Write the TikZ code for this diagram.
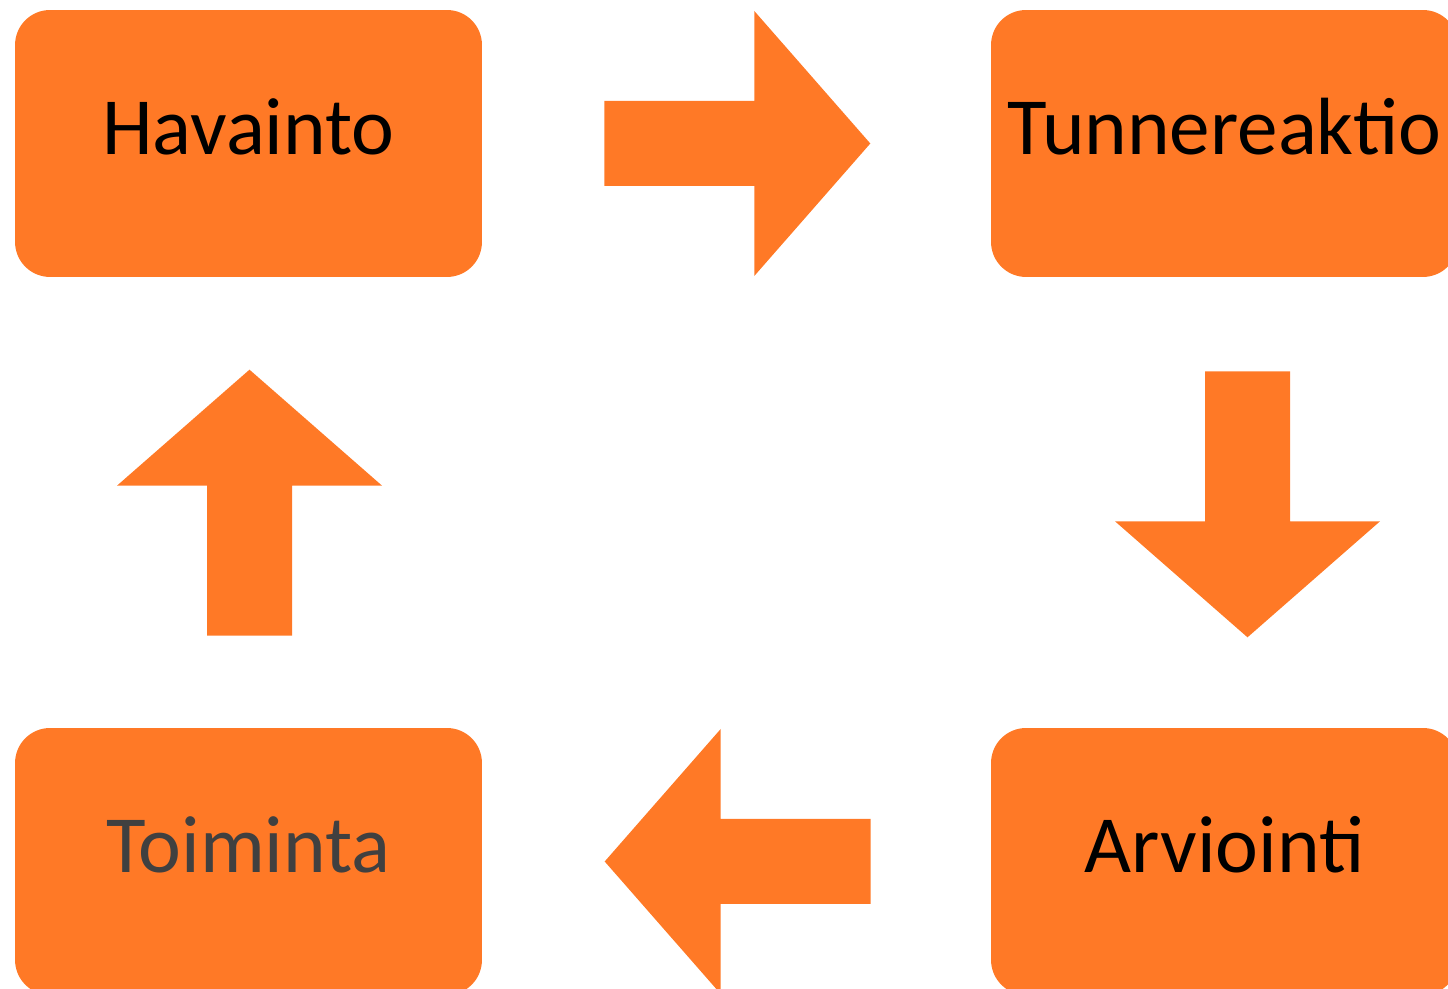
\documentclass[tikz,border=0pt]{standalone}
\usepackage{fontspec}
\setmainfont{Carlito}
\usepackage{tikz}
\usetikzlibrary{positioning,calc}
\definecolor{boxorange}{RGB}{255,121,38}
\definecolor{darktext}{RGB}{64,64,64}

% filled block arrow: tail centre, direction angle
\newcommand{\blockarrow}[2]{
	\begin{scope}[shift={#1}, rotate=#2]
		\fill[boxorange] (0,42.5) -- (150,42.5) -- (150,132.5) -- (266,0) -- (150,-132.5) -- (150,-42.5) -- (0,-42.5) -- cycle;
	\end{scope}
}

\begin{document}
\begin{tikzpicture}[x=0.02cm, y=0.02cm]
				\tikzstyle{step box} = [rectangle, fill=boxorange, rounded corners=0.7cm, inner sep=0pt, minimum width=9.34cm, text height=2.9cm, text depth=2.44cm, align=center, font=\fontsize{46.2}{52}\selectfont];
				
				\clip (0,0) rectangle (1448,989);
				
				\node[step box](havainto) at (248.5,845.5){Havainto};
				\node[step box](tunnereaktio) at (1224.5,845.5){Tunnereaktio};
				\node[step box](arviointi) at (1224.5,127.5){Arviointi};
				\node[step box, text=darktext](toiminta) at (248.5,127.5){Toiminta};
				
				\blockarrow{($(havainto.east)+(122,0)$)}{0}
				\blockarrow{($(tunnereaktio.south)+(23,-94)$)}{-90}
				\blockarrow{($(arviointi.west)+(-120,0)$)}{180}
				\blockarrow{($(toiminta.north)+(1,92)$)}{90}
			\end{tikzpicture}
\end{document}
